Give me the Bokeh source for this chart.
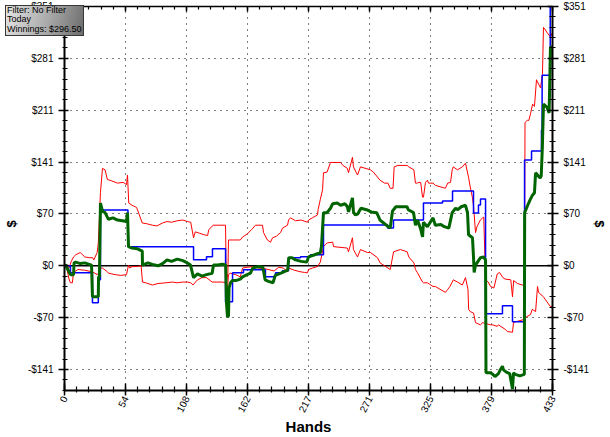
from bokeh.plotting import figure
from bokeh.models import Range1d, LinearAxis, FixedTicker, Span, Div
from bokeh.layouts import column
from bokeh.embed import file_html
from bokeh.resources import INLINE

# ---------------- data ----------------
hands_total = 433
dollar_step = 70.25
x_tick_labels = ["0", "54", "108", "162", "217", "271", "325", "379", "433"]
y_tick_labels = ["-$141", "-$70", "$0", "$70", "$141", "$211", "$281", "$351"]

green_hands = [0, 0.9, 3, 5.3, 8, 8.5, 10, 14, 18, 22,
               24, 24.8, 30, 30.2, 31, 31.9, 33.7, 36, 38, 39,
               43, 47, 51.5, 55, 55.9, 56.8, 60, 64.8, 69, 69.2,
               74, 78, 83, 87, 91, 95, 100, 105, 109, 111.8,
               114.5, 118, 122, 126, 131, 132.2, 136, 140, 143, 143.7,
               144.6, 145.5, 146, 147.3, 149, 152, 156, 158, 162, 165,
               167, 172, 176, 178, 181, 185, 187, 192, 198, 199,
               202, 205, 210, 215, 216.5, 222, 227, 228, 229.8, 233,
               236, 238, 242, 245, 249, 251, 252, 255.5, 256.4, 258,
               260, 263, 268, 272, 277, 280, 284, 289, 291, 294,
               298, 304, 305, 309.7, 311.4, 313.2, 316, 317.7, 318.5, 322,
               327, 329, 334, 337, 341, 344, 347, 349, 352, 355.8,
               357.6, 358.5, 362, 362.9, 363.5, 364.7, 369.1, 371.8, 373.6, 374,
               378, 380, 382, 385, 387, 388.6, 389.5, 392, 395, 397.5,
               398.4, 400, 404, 408, 408.3, 411, 413, 415, 417, 418,
               422, 423, 424, 425, 428, 430, 431.2, 433]
green_dollars = [0, 1.4, -5, -12, -12, 4, 5, 3, 4, 2,
                 1, -42, -42, -15, -15, 85, 74, 72, 66, 63,
                 65, 62, 61, 60, 72, 26, 24, 23, 20, 1,
                 4, 2, 0, 3, 8, 6, 9, 7, 4, 1,
                 -16, -11, -14, -12, -10, 1, 1, 2, 1, -50,
                 -69, -68, -30, -23, -20, -20, -18, -15, -12, -10,
                 -3, -1, -2, -19, -21, -23, -13, -10, -6, 11,
                 11, 8, 6, 5, 12, 15, 18, 26, 72, 72,
                 78, 84, 85, 82, 84, 80, 73, 92, 73, 69,
                 70, 78, 76, 73, 72, 62, 57, 51, 74, 80,
                 80, 80, 76, 72, 55, 62, 50, 39, 59, 53,
                 65, 55, 56, 53, 51, 72, 78, 76, 80, 82,
                 72, 42, 38, 12, -9, 1, 11, 12, 8, -145,
                 -145, -147, -150, -146, -140, -136, -141, -144, -146, -167,
                 -145, -147, -149, -147, 72, 82, 89, 95, 99, 126,
                 119, 122, 161, 219, 215, 207, 296, 296.5]

blue_hands = [0, 5.3, 24.8, 30, 31.9, 56.3, 114.5, 126, 131.3, 142.9,
              149.1, 158.8, 178.3, 187.2, 193.4, 198.8, 209.4, 218.3, 229.8, 286.6,
              291.9, 318.5, 335.4, 344.3, 362.9, 367.3, 369.1, 373.6, 388.6, 397.5,
              408.2, 414.4, 423.2, 423.8, 431, 433]
blue_dollars = [0, -9.5, -50, -19, 75.7, 25.7, 8.1, 12.2, 23, -48.6,
                -9.5, -5.4, -14.9, -9.5, -6.8, 10.8, 12.2, 14.9, 55.4, 51.3,
                62.1, 85.1, 87.8, 101.3, 71.6, 82.4, 90.5, -64.8, -54, -75.7,
                143.2, 155.4, 183.7, 258, 360, 360]

upper_hands = [0, 2, 4, 6, 8, 10, 14, 18, 22, 25,
               26, 29, 30, 31.9, 33.7, 36, 38, 42, 47, 52,
               55, 55.9, 57, 60, 64, 69, 73, 78, 82, 87,
               91, 95, 100, 105, 109, 112, 114.5, 116, 120, 124,
               127, 128, 132, 136, 142.9, 143.5, 145, 145.5, 149, 156,
               158, 162, 166, 169.5, 175.7, 176.6, 180, 182.8, 184.6, 188,
               191.7, 193.4, 197.9, 198.8, 200.5, 205, 210, 215.6, 216.5, 220,
               224.5, 225, 227, 229, 229.8, 233, 236, 245, 247, 251,
               252, 255.5, 256.4, 260, 262.6, 271.5, 274, 280, 284, 287,
               289, 291.5, 292.5, 296, 304, 305.5, 310, 311.4, 313, 314.5,
               316, 317.7, 318.5, 320.3, 322, 323, 327, 329, 338, 340,
               342.5, 344, 345, 348.7, 353, 355.8, 358.5, 360, 362, 363,
               364.7, 366, 369, 371, 372, 373.6, 376, 378, 381, 384,
               386, 389, 391, 396, 397.5, 398.5, 402, 406, 408.2, 408.6,
               410.6, 412, 413.5, 415.3, 417, 418.8, 419.7, 422.4, 424.1, 425,
               426, 428.6, 431.2, 433]
upper_dollars = [0, 2, -3, 6, 12, 15, 18, 12, 11, 11,
                 8, 18, 31, 99, 132, 130, 117, 115, 112, 113,
                 110, 123, 85, 82, 79, 58, 57, 55, 54, 58,
                 60, 59, 61, 62, 60, 59, 38, 46, 44, 42,
                 41, 49, 55, 55, 55, -23, -10, 35, 35, 35,
                 39, 43, 49, 55, 55, 45, 35, 32, 38, 40,
                 45, 51, 55, 62, 65, 61, 62, 59, 62, 65,
                 69, 76, 90, 103, 126, 127, 140, 140, 136, 132,
                 126, 147, 134, 123, 134, 130, 127, 116, 112, 112,
                 105, 105, 134, 136, 136, 134, 130, 112, 112, 113,
                 113, 93, 93, 113, 116, 112, 112, 109, 105, 112,
                 113, 130, 134, 130, 134, 139, 120, 107, 92, 80,
                 45, 53, 62, 65, 66, -19, -22, -28, -30, -11,
                 -9, -16, -18, -19, -42, -20, -24, -26, -26, 194,
                 197, 197, 206, 219, 216, 252, 249, 241, 260, 323,
                 321, 315, 310, 316]

lower_hands = [0, 2, 4, 5.3, 7, 8, 12, 18, 24, 27,
               29, 30, 31, 33.7, 38, 39, 45, 50, 55, 56.8,
               58, 60, 64, 68, 69.2, 72, 78, 83, 90, 96,
               100, 105, 109, 112, 114, 118, 122, 126, 131, 136,
               140, 142.9, 144, 145.5, 147, 152, 156, 158, 162, 167.7,
               172, 178, 186, 190, 194, 198, 199, 204, 209, 213,
               215.6, 216.5, 220, 224.5, 227, 229.8, 233, 238, 238.7, 251,
               252, 255.5, 256.4, 260, 262.6, 268.8, 271.5, 277.7, 280, 289,
               292, 298, 304, 305.5, 310, 311.4, 313, 317.7, 318.5, 322,
               327, 329, 338, 340, 342, 344, 345, 348.7, 353, 355.8,
               358, 358.6, 360, 363, 364.7, 369, 371, 378, 380, 384,
               385, 391, 393, 397.5, 398.4, 400, 407, 409, 413.5, 415,
               418, 419.7, 420.6, 425, 426.8, 431, 433]
lower_dollars = [0, -3, -18, -23, -23, -9, -5, -6, -8, -10,
                 -12, -10, -3, -3, -8, -10, -12, -13, -12, 1,
                 -3, -1, -1, 0, -22, -23, -26, -24, -23, -22,
                 -23, -22, -22, -23, -26, -19, -16, -16, -22, -22,
                 -22, -23, -45, -12, -10, -12, -15, -3, -2, -1,
                 -3, -4, -7, -2, -3, -8, -3, -6, -8, -9,
                 -9.5, -5, -3, -1, 5, 26, 31, 32, 26, 24,
                 19, 38, 22, 12, 22, 18, 18, 11, 4, -5,
                 19, 22, 19, 12, 4, -5, -9, -22, -23, -23,
                 -28, -28, -36, -32, -28, -22, -19, -22, -26, -16,
                 -32, -59, -62, -64, -77, -80, -77, -80, -80, -82,
                 -80, -86, -89, -90, -77, -76, -73, -70, -66, -59,
                 -62, -28, -36, -42, -46, -55, -55]

info_lines = ["Filter: No Filter", "Today", "Winnings: $296.50"]

# ---------------- ticks ----------------
x_major = [i * hands_total / 8 for i in range(9)]
x_minor = [i * hands_total / 40 for i in range(41)]
y_major = [k * dollar_step for k in range(-2, 6)]
y_minor = [k * dollar_step / 5 for k in range(-12, 26)]
y_bottom = -168.9
y_top = 5 * dollar_step

FONT = "Liberation Sans"
PAD = "\u00a0" * 14   # shifts the rotated "$" labels down, as in the original

p = figure(width=610, height=437, output_backend="svg", toolbar_location=None,
           x_range=Range1d(0, hands_total), y_range=Range1d(y_bottom, y_top),
           min_border_left=64, min_border_right=58, min_border_top=6,
           min_border_bottom=46, background_fill_color="white",
           border_fill_color="white")
p.outline_line_color = None

xt = FixedTicker(ticks=x_major, minor_ticks=x_minor)
yt = FixedTicker(ticks=y_major, minor_ticks=y_minor)


def style_axis(ax, tin, tout, mtin, mtout):
    ax.axis_line_color = "black"
    ax.axis_line_width = 2
    ax.major_tick_line_color = "black"
    ax.minor_tick_line_color = "black"
    ax.major_tick_line_width = 1.5
    ax.minor_tick_line_width = 1.2
    ax.major_tick_in = tin
    ax.major_tick_out = tout
    ax.minor_tick_in = mtin
    ax.minor_tick_out = mtout
    ax.major_label_text_font = FONT
    ax.major_label_text_font_size = "10px"
    ax.major_label_text_color = "black"
    ax.axis_label_text_font = FONT
    ax.axis_label_text_font_style = "bold"
    ax.axis_label_text_color = "black"


xa = p.xaxis[0]
xa.ticker = xt
xa.major_label_overrides = {t: s for t, s in zip(x_major, x_tick_labels)}
xa.major_label_orientation = 1.1
xa.axis_label = "Hands"
style_axis(xa, 7, 5, 4, 2)
xa.axis_label_text_font_size = "15px"
xa.major_label_standoff = 1
xa.axis_label_standoff = 0

ya = p.yaxis[0]
ya.ticker = yt
ya.major_label_overrides = {t: s for t, s in zip(y_major, y_tick_labels)}
ya.axis_label = "$" + PAD
style_axis(ya, 4, 6, 3, 2)
ya.axis_label_text_font_size = "13px"
ya.major_label_standoff = 5
ya.axis_label_standoff = 6

yr = LinearAxis(ticker=yt, axis_label=PAD + "$")
yr.major_label_overrides = {t: s for t, s in zip(y_major, y_tick_labels)}
style_axis(yr, 5, 6, 3, 3)
yr.axis_label_text_font_size = "13px"
yr.major_label_standoff = 5
yr.axis_label_standoff = 0
p.add_layout(yr, "right")

xtop = LinearAxis(ticker=xt)
style_axis(xtop, 5, 0, 3, 0)
xtop.axis_line_width = 1.5
xtop.major_label_text_font_size = "1px"
xtop.major_label_text_color = None
xtop.major_label_standoff = 0
p.add_layout(xtop, "above")

p.xgrid.ticker = xt
p.ygrid.ticker = yt
for g in (p.xgrid[0], p.ygrid[0]):
    g.grid_line_color = "black"
    g.grid_line_dash = "1 5"
    g.grid_line_width = 1

zero = Span(location=0, dimension="width", line_color="black", line_width=1.5,
            level="underlay")
p.add_layout(zero)

p.line(upper_hands, upper_dollars, line_color="#ff0000", line_width=1)
p.line(lower_hands, lower_dollars, line_color="#ff0000", line_width=1)
p.step(blue_hands, blue_dollars, mode="after", line_color="#0000ff", line_width=1.5)
p.line(green_hands, green_dollars, line_color="#006400", line_width=3)

box = Div(text="<br>".join(info_lines), width=79, height=31,
          styles={"position": "absolute", "left": "0px", "top": "0px",
                  "z-index": "10", "box-sizing": "border-box",
                  "background": "linear-gradient(105deg, #e4e4e4 0%, #a8a8a8 55%, #6c6c6c 100%)",
                  "border": "1px solid #383838",
                  "font-family": "Liberation Sans", "font-size": "9px",
                  "line-height": "9.3px", "color": "black",
                  "padding": "0px 0px 0px 1px", "overflow": "hidden",
                  "white-space": "nowrap"})

layout = column(p, box)
layout.styles = {"position": "relative"}

open("out.html", "w").write(file_html(layout, INLINE))
